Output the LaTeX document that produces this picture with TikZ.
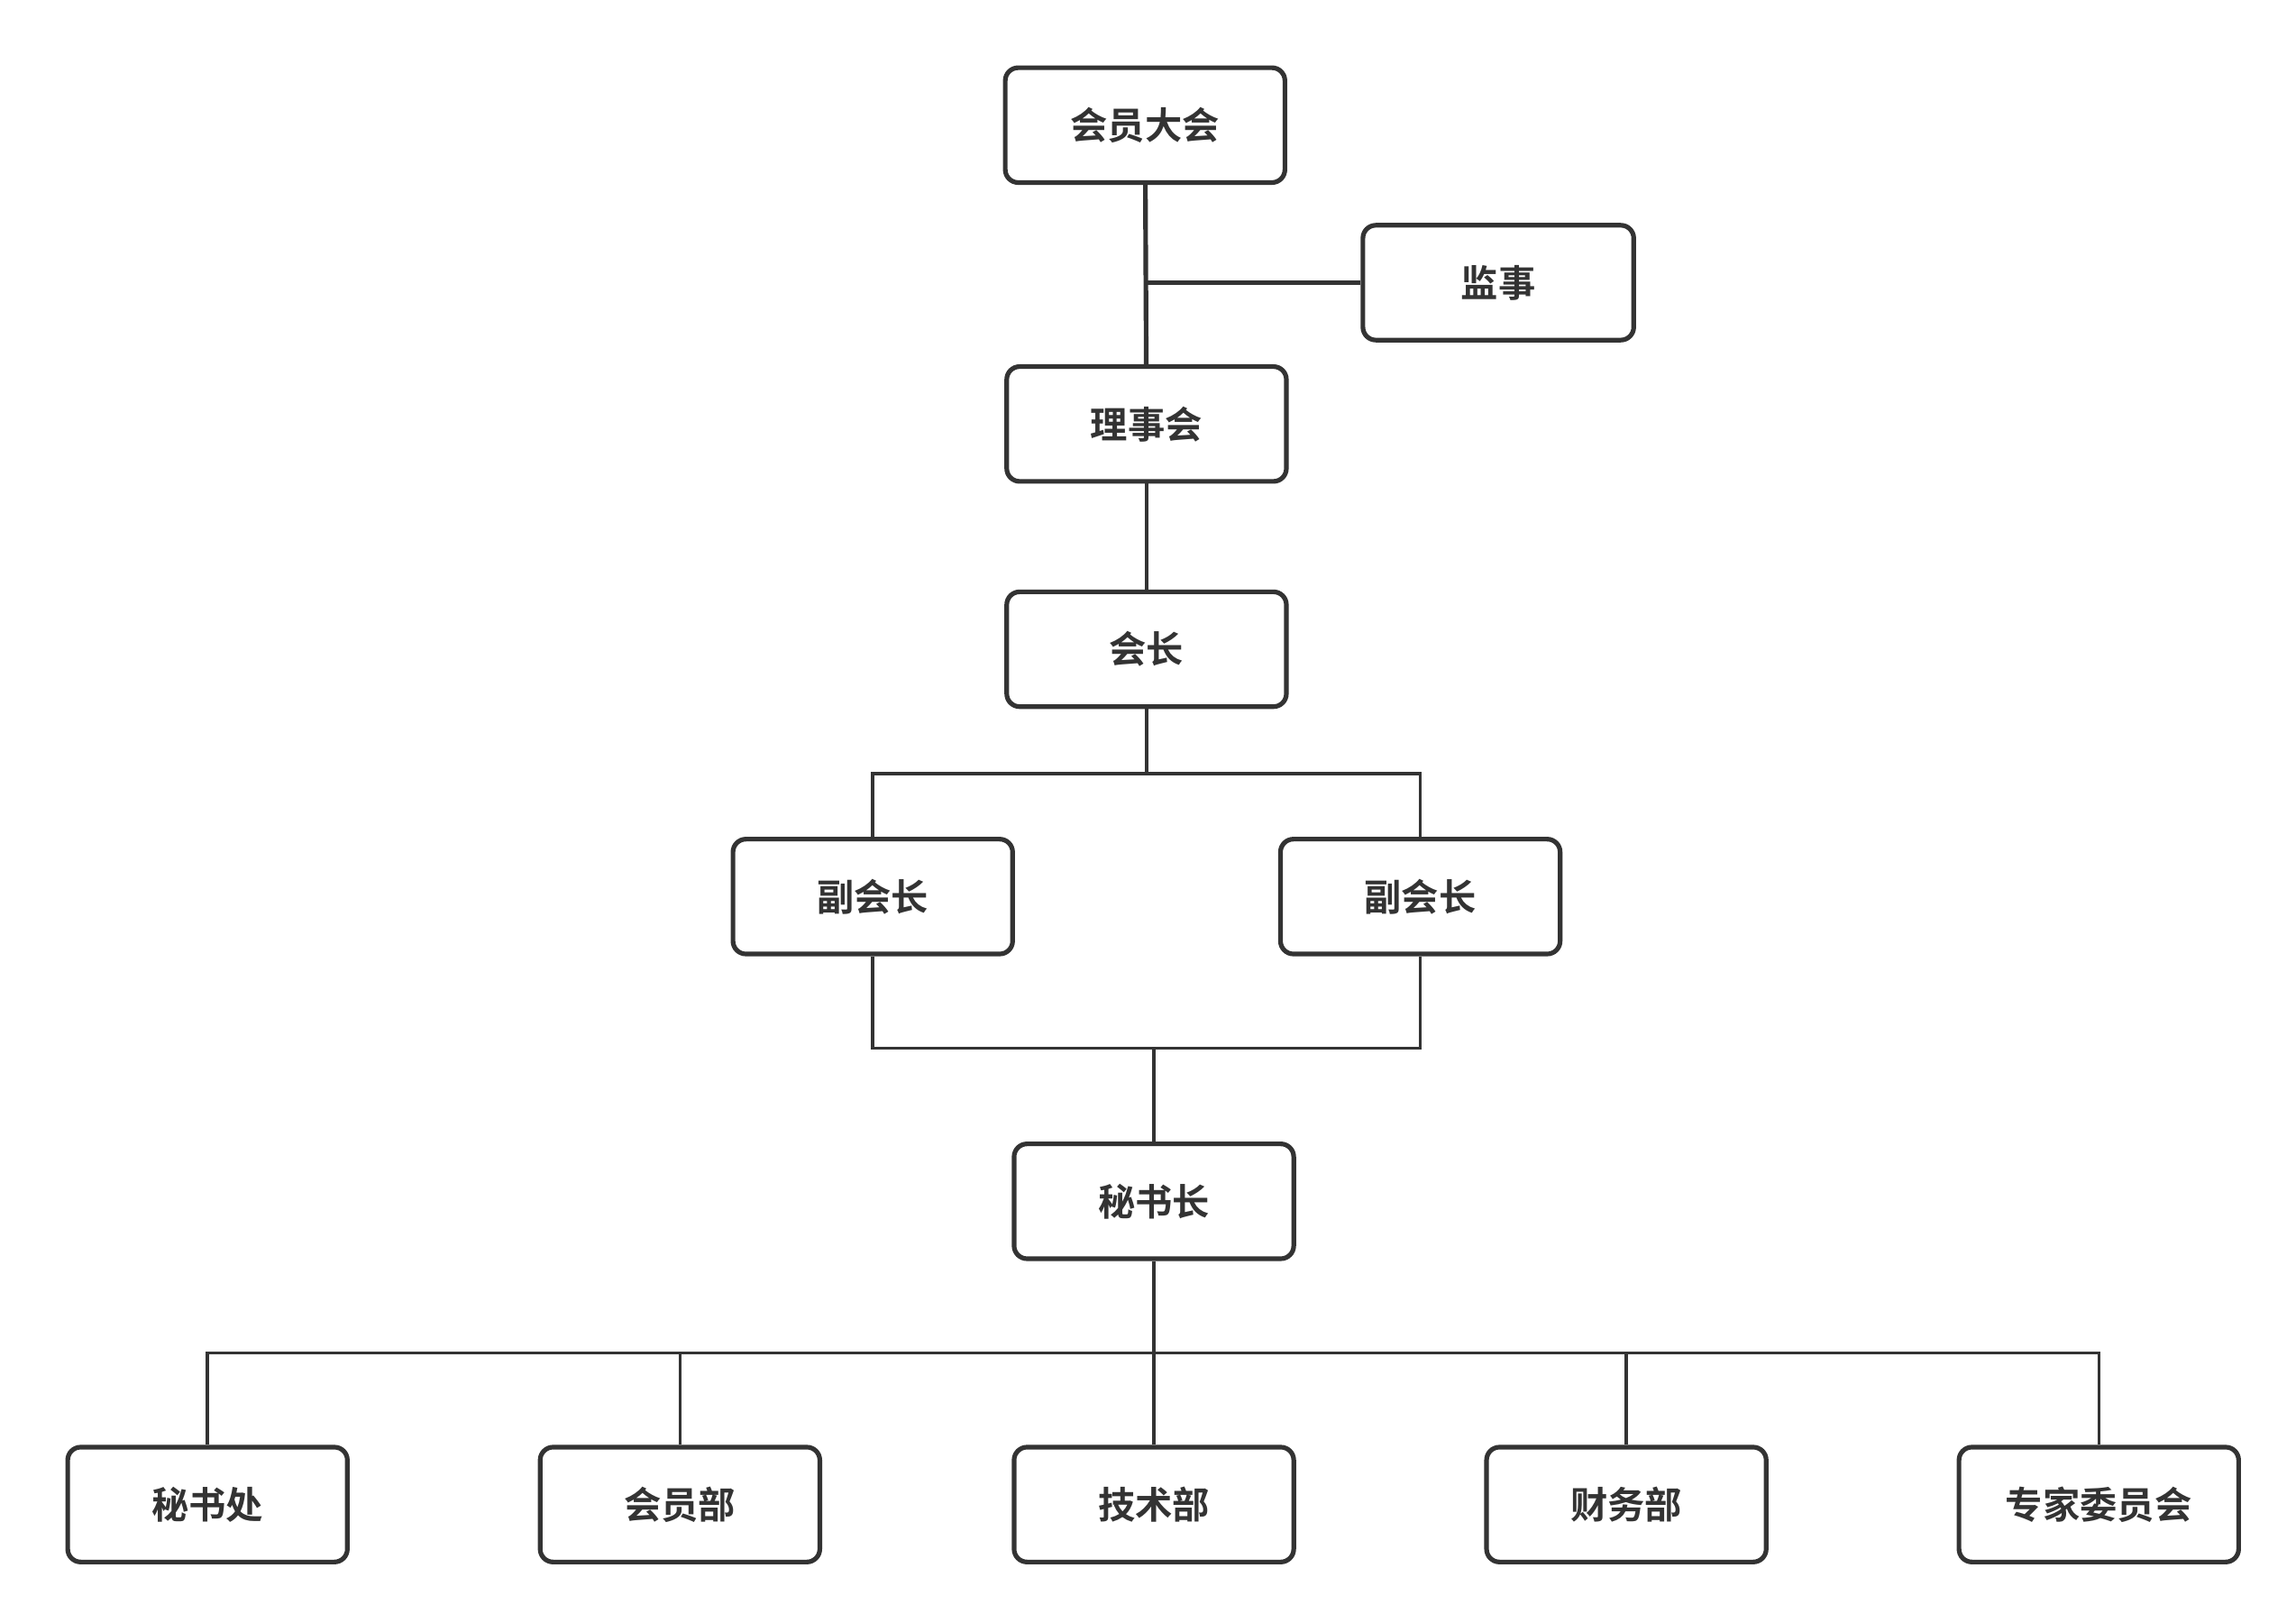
\documentclass[tikz,border=0pt]{standalone}
\usepackage{fontspec}
\setmainfont{Noto Sans CJK SC}[BoldFont={Noto Sans CJK SC Bold}]
\definecolor{ink}{HTML}{333333}
\tikzset{
  orgbox/.style={draw=ink, line width=0.9pt, rounded corners=2.5pt, fill=white,
    minimum width=1.9cm, minimum height=0.78cm, font=\fontsize{7.2}{8}\selectfont\bfseries, text=ink},
  link/.style={draw=ink, line width=0.6pt}
}
\begin{document}
\begin{tikzpicture}
    \useasboundingbox (0,0) rectangle (15.6,-11.02);

    % Draw the top levels.
    \node[orgbox] (assembly) at (7.78,-0.85) {会员大会};
    \node[orgbox, minimum width=1.84cm] (supervisor) at (10.18,-1.92) {监事};
    \node[orgbox] (council) at (7.79,-2.88) {理事会};
    \node[orgbox] (president) at (7.79,-4.41) {会长};

    % Draw the vice presidents.
    \node[orgbox] (vice_l) at (5.93,-6.09) {副会长};
    \node[orgbox] (vice_r) at (9.65,-6.09) {副会长};

    % Draw the secretary general.
    \node[orgbox] (secgen) at (7.84,-8.16) {秘书长};

    % Draw the departments.
    \node[orgbox] (d_0) at (1.41,-10.22) {秘书处};
    \node[orgbox] (d_1) at (4.62,-10.22) {会员部};
    \node[orgbox] (d_2) at (7.84,-10.22) {技术部};
    \node[orgbox] (d_3) at (11.05,-10.22) {财务部};
    \node[orgbox] (d_4) at (14.26,-10.22) {专家委员会};

    % Draw the lines.
    \draw[link, line width=0.9pt] (assembly) -- (council);
    \coordinate (j_0) at (7.79,-1.92);
    \draw[link, line width=0.9pt] (supervisor) -- (j_0);
    % President -> vice presidents.
    \draw[link] (president.south) -- ++(0,-0.44) -| (vice_l.north);
    \draw[link] (president.south) -- ++(0,-0.44) -| (vice_r.north);
    \draw[link] (council) -- (president);
    % Vice presidents -> secretary general.
    \coordinate (j_1) at (7.84,-7.12);
    \draw[link] (vice_l.south) |- (j_1);
    \draw[link] (vice_r.south) |- (j_1);
    \draw[link] (j_1) -- (secgen);
    % Secretary general -> departments.
    \coordinate (j_2) at (7.84,-9.19);
    \draw[link] (secgen) -- (j_2);
    \foreach \i in {0,...,4}
      \draw[link] (j_2) -| (d_\i.north);
\end{tikzpicture}
\end{document}
